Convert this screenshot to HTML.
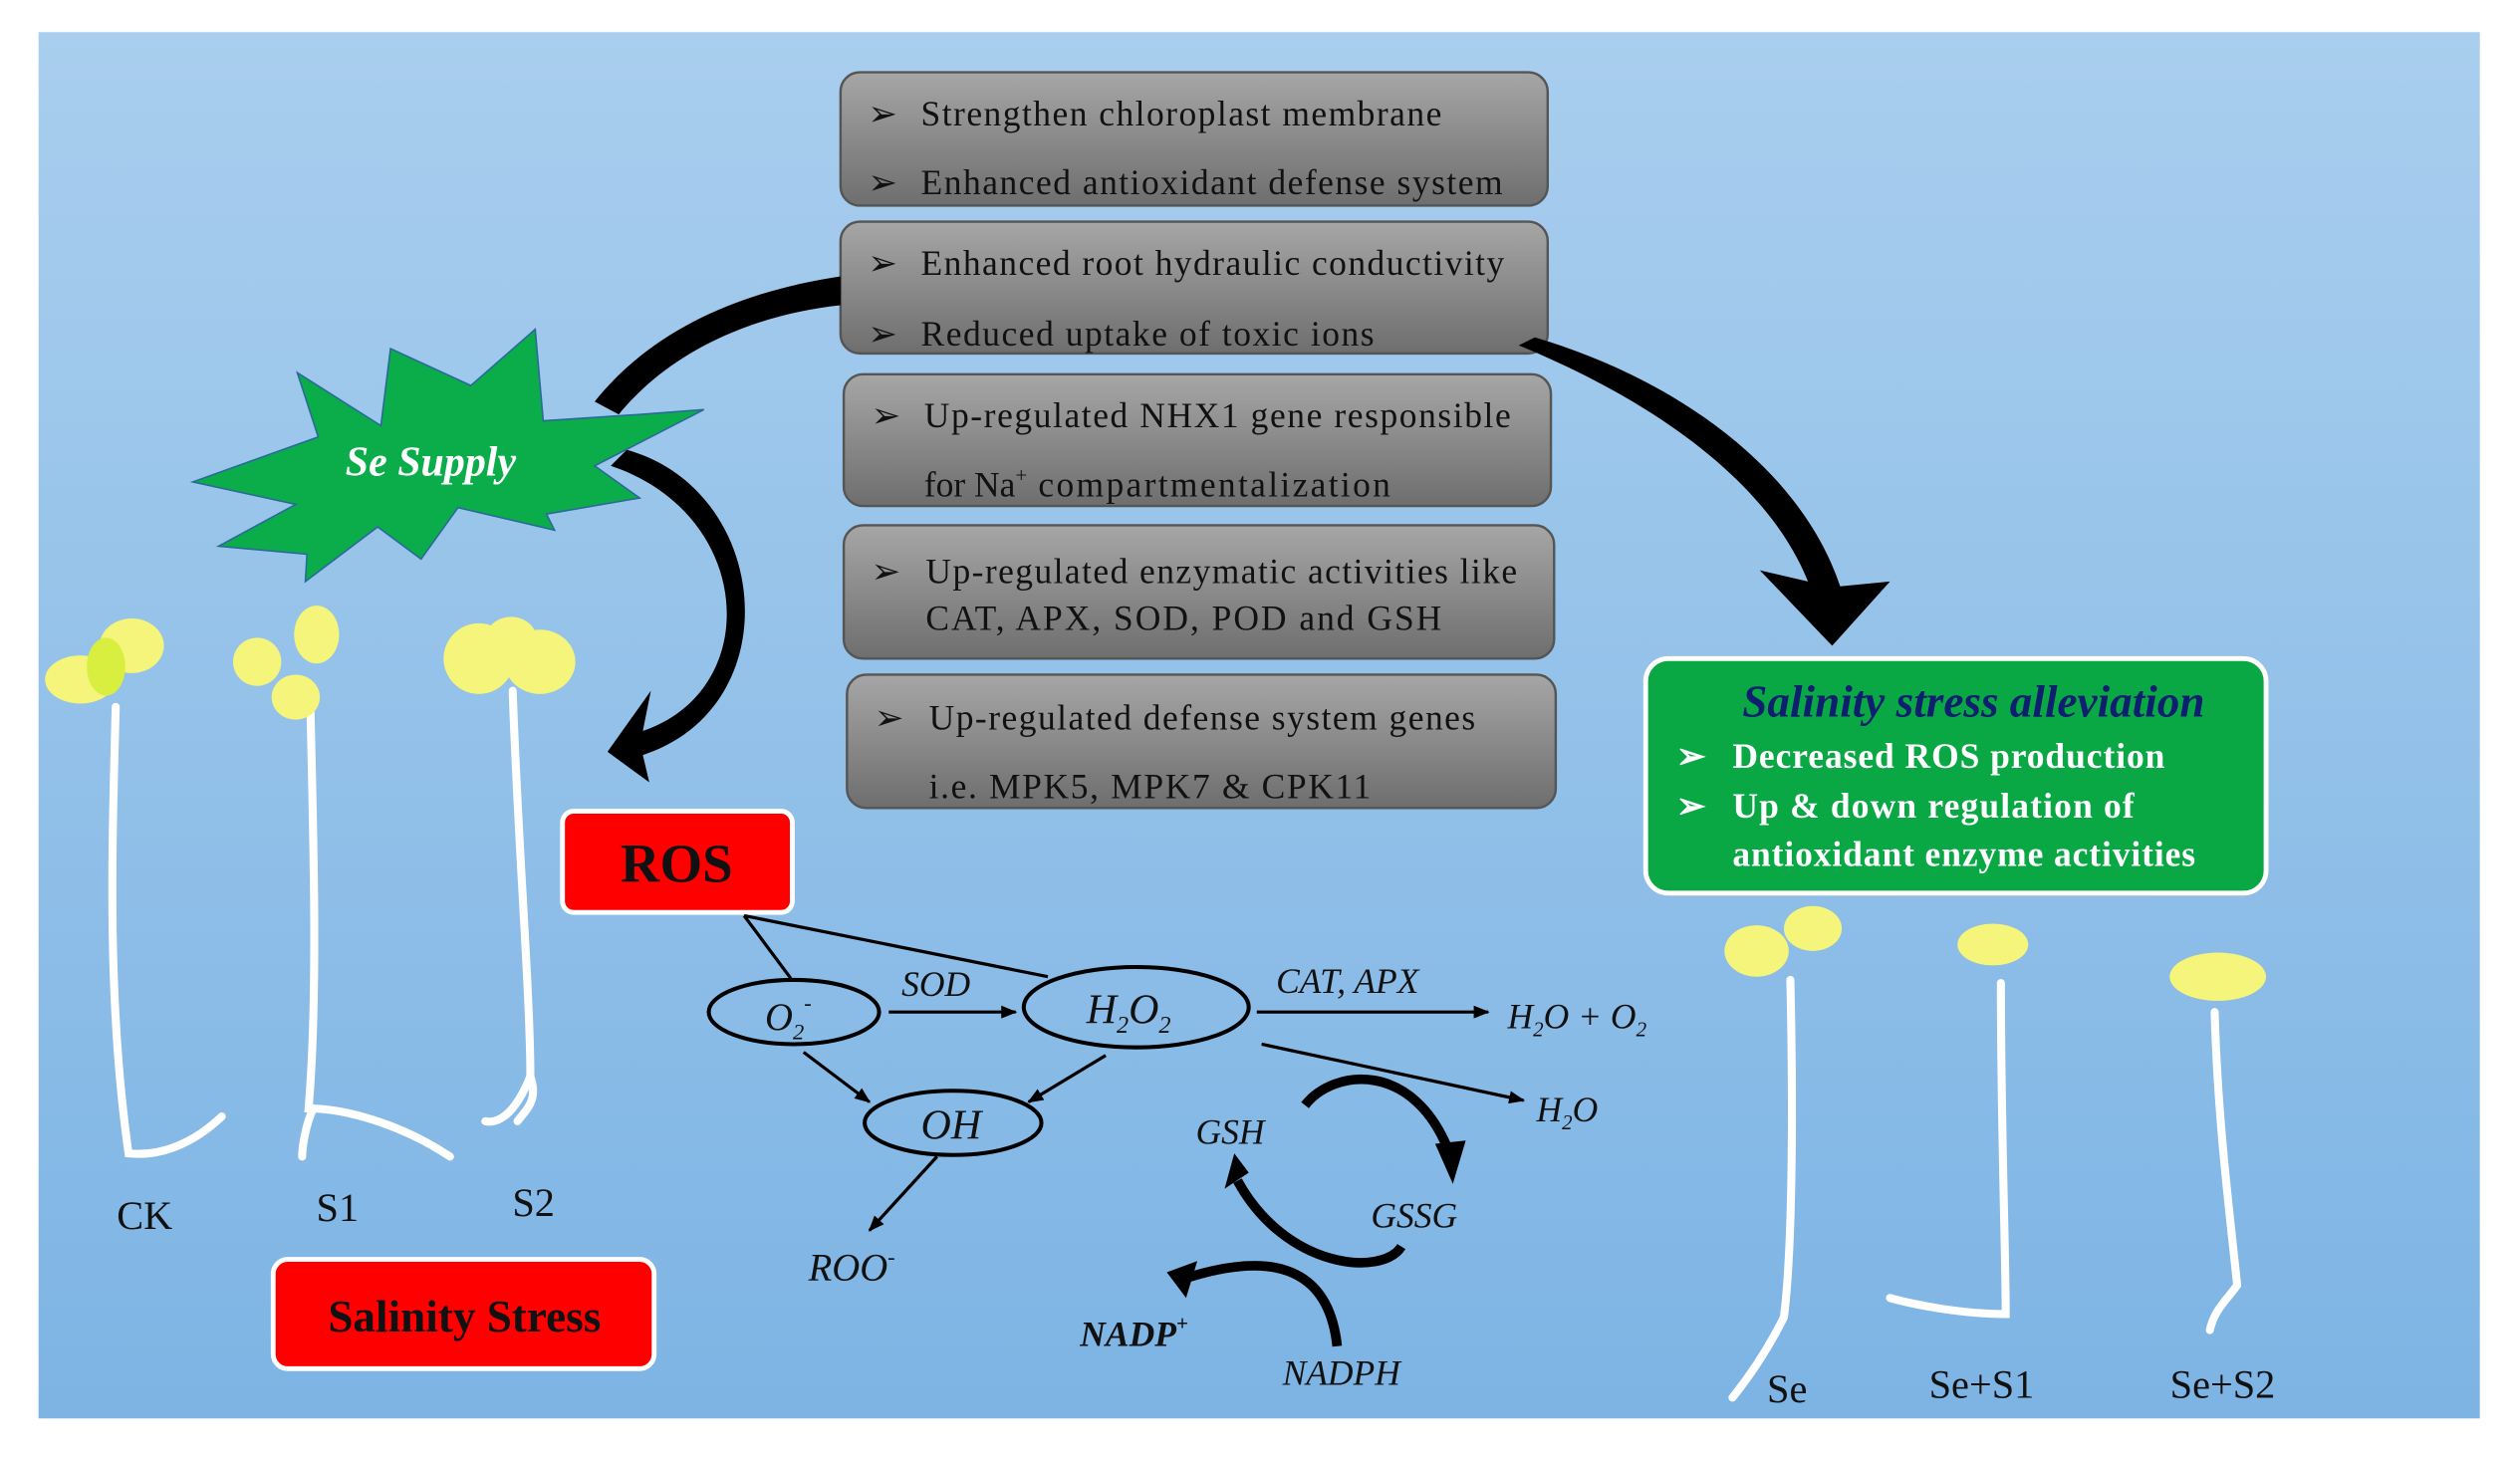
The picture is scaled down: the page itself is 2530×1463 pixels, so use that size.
<!DOCTYPE html>
<html><head><meta charset="utf-8"><style>
html,body{margin:0;padding:0;background:#fff;}
svg{display:block;}
text{font-family:"Liberation Serif",serif;}
</style></head><body>
<svg width="2530" height="1463" viewBox="0 0 1568 907" preserveAspectRatio="none" xmlns="http://www.w3.org/2000/svg">
<defs>
<linearGradient id="bg" x1="0" y1="0" x2="0" y2="1"><stop offset="0" stop-color="#a9ceee"/><stop offset="1" stop-color="#7db4e4"/></linearGradient>
<linearGradient id="gr" x1="0" y1="0" x2="0" y2="1"><stop offset="0" stop-color="#a6a6a6"/><stop offset="1" stop-color="#6e6e6e"/></linearGradient>
<marker id="ah" markerWidth="10" markerHeight="8" refX="9" refY="4" orient="auto" markerUnits="userSpaceOnUse"><path d="M0,0 L10,4 L0,8 z" fill="#000"/></marker>
</defs>
<rect x="0" y="0" width="1568" height="907" fill="#fff"/>
<rect x="24" y="20" width="1519" height="863" fill="url(#bg)"/>

<g stroke="#555" stroke-width="1.5" fill="url(#gr)">
<rect x="523" y="45" width="440" height="83" rx="12"/>
<rect x="523" y="138" width="440" height="82" rx="12"/>
<rect x="525" y="233" width="440" height="82" rx="12"/>
<rect x="525" y="327" width="442" height="83" rx="12"/>
<rect x="527" y="420" width="441" height="83" rx="12"/>
</g>
<g font-size="22" fill="#111">
<text x="540" y="78">➢</text><text x="573" y="78" textLength="324" lengthAdjust="spacing">Strengthen chloroplast membrane</text>
<text x="540" y="121">➢</text><text x="573" y="121" textLength="362" lengthAdjust="spacing">Enhanced antioxidant defense system</text>
<text x="540" y="171">➢</text><text x="573" y="171" textLength="363" lengthAdjust="spacing">Enhanced root hydraulic conductivity</text>
<text x="540" y="215">➢</text><text x="573" y="215" textLength="282" lengthAdjust="spacing">Reduced uptake of toxic ions</text>
<text x="542" y="266">➢</text><text x="575" y="266" textLength="365" lengthAdjust="spacing">Up-regulated NHX1 gene responsible</text>
<text x="575" y="309">for Na<tspan font-size="13" dy="-9">+</tspan><tspan dy="9" textLength="226" lengthAdjust="spacing"> compartmentalization</tspan></text>
<text x="542" y="363">➢</text><text x="576" y="363" textLength="368" lengthAdjust="spacing">Up-regulated enzymatic activities like</text>
<text x="576" y="392" textLength="321" lengthAdjust="spacing">CAT, APX, SOD, POD and GSH</text>
<text x="544" y="454">➢</text><text x="578" y="454" textLength="340" lengthAdjust="spacing">Up-regulated defense system genes</text>
<text x="578" y="497" textLength="275" lengthAdjust="spacing">i.e. MPK5, MPK7 &amp; CPK11</text>
</g>

<path d="M523,172 C470,180 410,200 370,250 L385,258 C420,215 475,195 523,190 Z" fill="#000"/>
<path d="M380,290 C470,320 475,430 400,455 L405,430 L378,468 L404,487 L400,470 C492,440 480,305 390,280 Z" fill="#000"/>
<path d="M945,215 C1030,250 1100,300 1125,362 L1095,355 L1140,402 L1176,362 L1145,365 C1120,290 1040,235 955,210 Z" fill="#000"/>

<polygon points="398,258 338,262 333,205 293,240 243,217 237,265 185,232 198,272 120,300 184,314 136,340 191,345 190,362 235,328 262,348 285,316 345,330 340,320 398,310 370,290 438,255" fill="#0aad4a" stroke="#2a6a9a" stroke-width="1"/>
<text x="268" y="296" font-size="26" font-style="italic" font-weight="bold" fill="#fff" text-anchor="middle">Se Supply</text>

<rect x="350" y="505" width="143" height="63" rx="7" fill="#f00" stroke="#fff" stroke-width="3"/>
<text x="421" y="549" font-size="34" font-weight="bold" text-anchor="middle" fill="#111">ROS</text>
<rect x="170" y="784" width="237" height="68" rx="9" fill="#f00" stroke="#fff" stroke-width="3"/>
<text x="289" y="829" font-size="28" font-weight="bold" text-anchor="middle" fill="#111">Salinity Stress</text>

<rect x="1024" y="410" width="386" height="146" rx="14" fill="#0aa845" stroke="#fff" stroke-width="3"/>
<text x="1228" y="446" font-size="28" font-style="italic" font-weight="bold" fill="#0d1f6e" text-anchor="middle">Salinity stress alleviation</text>
<g font-size="22" font-weight="bold" fill="#fff">
<text x="1043" y="478">➢</text><text x="1078" y="478" textLength="269" lengthAdjust="spacing">Decreased ROS production</text>
<text x="1043" y="509">➢</text><text x="1078" y="509" textLength="250" lengthAdjust="spacing">Up &amp; down regulation of</text>
<text x="1078" y="539" textLength="288" lengthAdjust="spacing">antioxidant enzyme activities</text>
</g>

<g stroke="#000" stroke-width="2" fill="none">
<line x1="463" y1="570" x2="492" y2="609"/>
<line x1="463" y1="570" x2="652" y2="608"/>
<ellipse cx="494" cy="630" rx="53" ry="20" stroke-width="2.5"/>
<ellipse cx="707" cy="627" rx="70" ry="25" stroke-width="2.5"/>
<ellipse cx="593" cy="699" rx="55" ry="20" stroke-width="2.5"/>
<line x1="553" y1="630" x2="632" y2="630" marker-end="url(#ah)"/>
<line x1="782" y1="630" x2="926" y2="630" marker-end="url(#ah)"/>
<line x1="785" y1="650" x2="948" y2="685" marker-end="url(#ah)"/>
<line x1="500" y1="655" x2="541" y2="686" marker-end="url(#ah)"/>
<line x1="688" y1="657" x2="640" y2="686" marker-end="url(#ah)"/>
<line x1="583" y1="720" x2="541" y2="766" marker-end="url(#ah)"/>
</g>
<g font-style="italic" fill="#111">
<text x="476" y="641" font-size="24">O<tspan font-size="14" dy="6">2</tspan><tspan font-size="14" dy="-18">-</tspan></text>
<text x="676" y="637" font-size="26">H<tspan font-size="15" dy="6">2</tspan><tspan dy="-6">O</tspan><tspan font-size="15" dy="6">2</tspan></text>
<text x="573" y="709" font-size="26">OH</text>
<text x="561" y="620" font-size="22">SOD</text>
<text x="794" y="618" font-size="22">CAT, APX</text>
<text x="938" y="640" font-size="22">H<tspan font-size="13" dy="5">2</tspan><tspan dy="-5">O + O</tspan><tspan font-size="13" dy="5">2</tspan></text>
<text x="956" y="698" font-size="22">H<tspan font-size="13" dy="5">2</tspan><tspan dy="-5">O</tspan></text>
<text x="503" y="797" font-size="24">ROO<tspan font-size="14" dy="-10">-</tspan></text>
<text x="744" y="712" font-size="22">GSH</text>
<text x="853" y="764" font-size="22">GSSG</text>
<text x="672" y="838" font-size="22" font-weight="bold">NADP<tspan font-size="13" dy="-10">+</tspan></text>
<text x="798" y="862" font-size="22">NADPH</text>
</g>
<g stroke="#000" fill="none" stroke-width="6">
<path d="M812,688 C830,665 880,660 902,718"/>
<path d="M872,776 C860,795 800,790 770,735"/>
<path d="M832,838 C828,800 805,775 740,795"/>
</g>
<g fill="#000">
<polygon points="893,712 912,710 904,737"/>
<polygon points="762,740 777,730 768,718"/>
<polygon points="745,785 738,808 726,792"/>
</g>

<g stroke="#fff" fill="none" stroke-linecap="round">
<path d="M72,440 C70,520 66,620 80,718 C100,720 120,712 138,695" stroke-width="5"/>
<path d="M193,435 C195,520 198,620 192,690 C215,690 250,700 280,720 M195,690 C190,700 188,715 188,720" stroke-width="5"/>
<path d="M319,430 C322,520 330,620 330,670 C322,690 312,700 302,698 M330,670 C335,685 328,690 322,698" stroke-width="5"/>
<path d="M1114,610 C1116,700 1115,780 1110,820 C1100,840 1090,855 1078,870" stroke-width="5"/>
<path d="M1245,612 C1245,700 1248,780 1248,818 C1220,818 1190,812 1176,808" stroke-width="5"/>
<path d="M1378,630 C1380,700 1388,760 1392,800 C1385,810 1378,815 1375,828" stroke-width="5"/>
</g>
<g fill="#f4f57a">
<ellipse cx="50" cy="423" rx="22" ry="15"/><ellipse cx="82" cy="402" rx="20" ry="17"/><ellipse cx="66" cy="415" rx="12" ry="18" fill="#d9ef40"/>
<ellipse cx="160" cy="412" rx="15" ry="15"/><ellipse cx="197" cy="395" rx="14" ry="18"/><ellipse cx="184" cy="434" rx="15" ry="14"/>
<ellipse cx="298" cy="410" rx="22" ry="22"/><ellipse cx="336" cy="412" rx="22" ry="20"/><ellipse cx="318" cy="398" rx="16" ry="14"/>
<ellipse cx="1093" cy="592" rx="20" ry="16"/><ellipse cx="1128" cy="578" rx="18" ry="14"/>
<ellipse cx="1240" cy="588" rx="22" ry="13"/>
<ellipse cx="1380" cy="608" rx="30" ry="15"/>
</g>

<g font-size="25" fill="#111" text-anchor="middle">
<text x="90" y="765">CK</text>
<text x="210" y="760">S1</text>
<text x="332" y="757">S2</text>
<text x="1112" y="873">Se</text>
<text x="1233" y="870">Se+S1</text>
<text x="1383" y="870">Se+S2</text>
</g>
</svg>
</body></html>
